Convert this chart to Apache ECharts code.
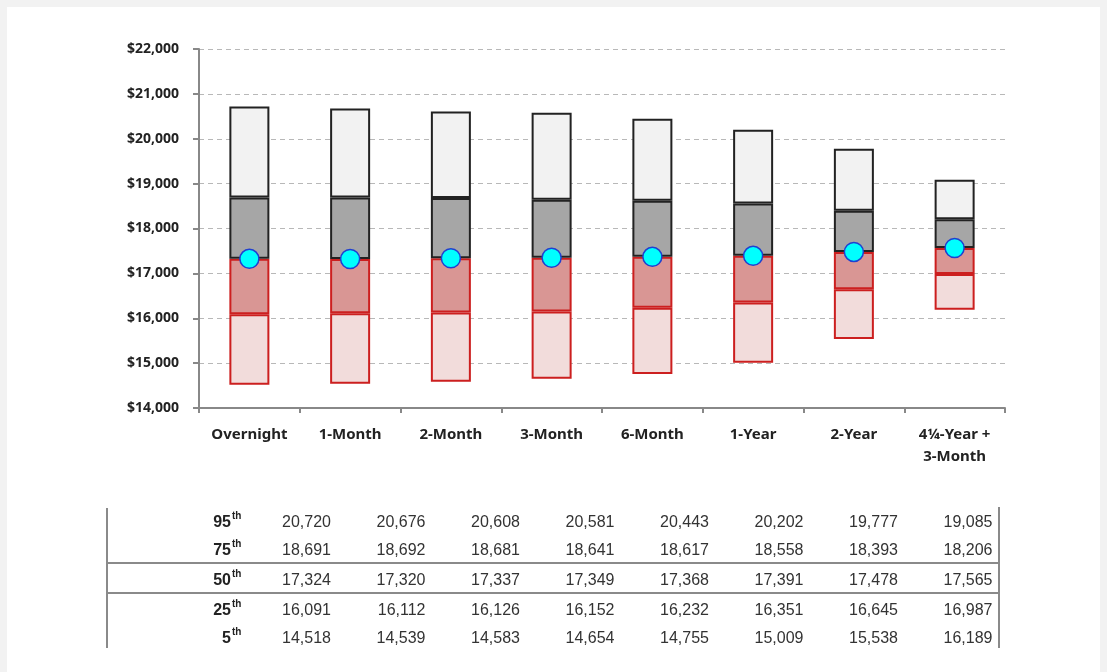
<!DOCTYPE html>
<html>
<head>
<meta charset="utf-8">
<script src="https://cdn.jsdelivr.net/npm/echarts@6/dist/echarts.min.js"></script>
<style>
  html, body { margin: 0; padding: 0; background: #f2f2f2; }
  #chart { position: absolute; left: 0; top: 0; width: 1107px; height: 672px; }
</style>
</head>
<body>
<div id="chart"></div>
<script>
// Maturity buckets and percentile values
const categories = ['Overnight', '1-Month', '2-Month', '3-Month', '6-Month', '1-Year', '2-Year', '4\u00bc-Year +\n3-Month'];
const p95 = [20720, 20676, 20608, 20581, 20443, 20202, 19777, 19085];
const p75 = [18691, 18692, 18681, 18641, 18617, 18558, 18393, 18206];
const p50 = [17324, 17320, 17337, 17349, 17368, 17391, 17478, 17565];
const p25 = [16091, 16112, 16126, 16152, 16232, 16351, 16645, 16987];
const p5  = [14518, 14539, 14583, 14654, 14755, 15009, 15538, 16189];
const yTicks = { min: 14000, max: 22000, step: 1000 };
const rowLabels = ['95', '75', '50', '25', '5'];

const fmt = v => v.toLocaleString('en-US');
const diff = (a, b) => a.map((v, i) => v - b[i]);

const chart = echarts.init(document.getElementById('chart'), null, { renderer: 'canvas' });

const grayEdge = '#222';
const redEdge = '#cc1f1f';

function seg(name, data, fill, edge) {
  return {
    name, type: 'bar', stack: 'box', data, barWidth: 40,
    itemStyle: { color: fill, borderColor: edge, borderWidth: 2 },
    emphasis: { disabled: true }, z: 2
  };
}

// Percentile table under the chart
const tableGraphics = [];
const rowY = [523, 551, 581, 611, 639];
const colRight = categories.map((_, i) => 331 + 94.5 * i);
const rows = [p95, p75, p50, p25, p5];
rows.forEach((vals, r) => {
  tableGraphics.push({
    type: 'text', x: 231, y: rowY[r],
    style: { text: rowLabels[r], font: 'bold 16px "Liberation Sans", Arial', fill: '#222', align: 'right', verticalAlign: 'middle' }
  });
  tableGraphics.push({
    type: 'text', x: 232, y: rowY[r] - 7,
    style: { text: 'th', font: 'bold 10px "Liberation Sans", Arial', fill: '#222', align: 'left', verticalAlign: 'middle' }
  });
  vals.forEach((v, c) => {
    tableGraphics.push({
      type: 'text', x: colRight[c], y: rowY[r],
      style: { text: fmt(v), font: '16px "Liberation Sans", Arial', fill: '#333', align: 'right', verticalAlign: 'middle' }
    });
  });
});
const lineStyle = { stroke: '#8a8a8a', lineWidth: 2 };
tableGraphics.push(
  { type: 'line', shape: { x1: 107, y1: 508, x2: 107, y2: 648 }, style: lineStyle },
  { type: 'line', shape: { x1: 999, y1: 507, x2: 999, y2: 648 }, style: lineStyle },
  { type: 'line', shape: { x1: 107, y1: 563, x2: 999, y2: 563 }, style: lineStyle },
  { type: 'line', shape: { x1: 107, y1: 593, x2: 999, y2: 593 }, style: lineStyle }
);

chart.setOption({
  animation: false,
  backgroundColor: 'transparent',
  graphic: [
    { type: 'rect', z: -10, silent: true, shape: { x: 7, y: 7, width: 1093, height: 665 }, style: { fill: '#ffffff' } },
    ...tableGraphics
  ],
  grid: { left: 199, right: 102, top: 49, height: 359, containLabel: false },
  xAxis: {
    type: 'category', data: categories,
    axisLine: { lineStyle: { color: '#888', width: 2 } },
    axisTick: { show: true, alignWithLabel: false, length: 5, lineStyle: { color: '#888', width: 2 } },
    axisLabel: { margin: 16, color: '#222', fontFamily: '"Noto Sans", sans-serif', fontWeight: 'bold', fontSize: 15, lineHeight: 22, interval: 0 }
  },
  yAxis: {
    type: 'value', min: yTicks.min, max: yTicks.max, interval: yTicks.step,
    axisLine: { show: true, lineStyle: { color: '#888', width: 2 } },
    axisTick: { show: true, length: 6, lineStyle: { color: '#888', width: 2 } },
    axisLabel: { margin: 20, color: '#222', fontFamily: '"Noto Sans", sans-serif', fontWeight: 'bold', fontSize: 14, formatter: v => '$' + fmt(v) },
    splitLine: { show: true, lineStyle: { color: '#b8b8b8', type: [5, 4], width: 1 } }
  },
  series: [
    { name: 'base', type: 'bar', stack: 'box', data: p5, barWidth: 40, itemStyle: { color: 'transparent' }, silent: true },
    seg('5th-25th', diff(p25, p5), '#f2dcdb', redEdge),
    seg('25th-50th', diff(p50, p25), '#d99694', redEdge),
    seg('50th-75th', diff(p75, p50), '#a6a6a6', grayEdge),
    seg('75th-95th', diff(p95, p75), '#f2f2f2', grayEdge),
    {
      name: 'Median', type: 'scatter', data: p50, symbol: 'circle', symbolSize: 19, z: 5,
      itemStyle: { color: '#00ffff', borderColor: '#2040d0', borderWidth: 1.5, opacity: 1 }
    }
  ]
});
</script>
</body>
</html>
